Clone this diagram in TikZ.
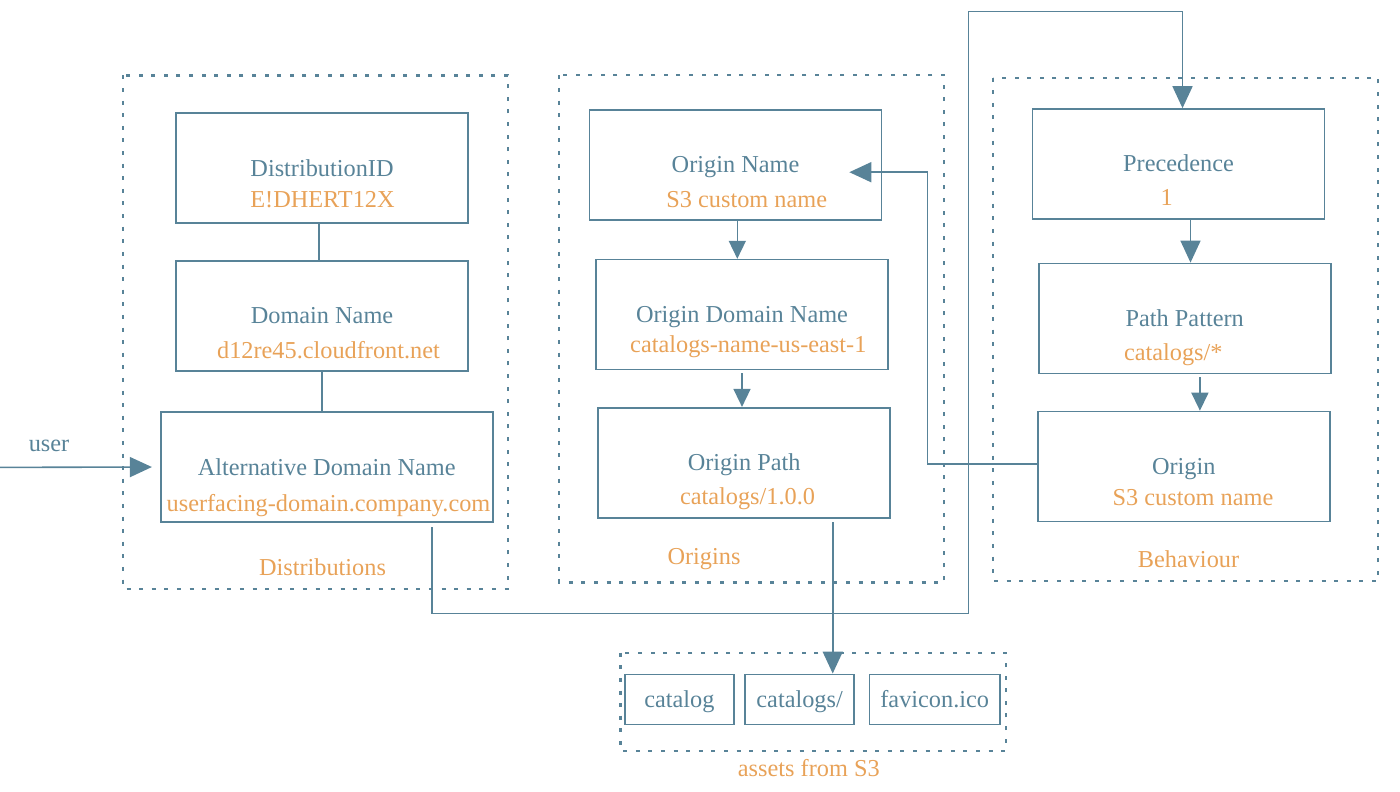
\documentclass[tikz,border=0pt]{standalone}
\usepackage{fontspec}
\setmainfont{Liberation Serif}
\usetikzlibrary{arrows.meta}
\definecolor{cfblue}{RGB}{88,131,152}
\definecolor{cforange}{RGB}{232,162,88}

\begin{document}
\begin{tikzpicture}[x=0.5pt,y=-0.5pt,
    font=\fontsize{12.15pt}{14pt}\selectfont,
    field/.style={draw=cfblue,line width=0.8pt,text=cfblue,minimum width=146pt,
                  minimum height=55pt,inner sep=0pt,text height=8pt,text depth=0pt},
    asset/.style={field,minimum width=54.5pt,minimum height=25pt},
    val/.style={text=cforange,inner sep=0pt,text height=8pt,text depth=0pt},
    group/.style={draw=cfblue,line width=1.1pt,dash pattern=on 2pt off 4.3pt},
    wire/.style={draw=cfblue,line width=0.8pt},
    bigtip/.style={-{Triangle[length=11pt,width=10pt]}},
    smalltip/.style={-{Triangle[length=9pt,width=8.5pt]}}]
\useasboundingbox (0,0) rectangle (1400,791);

% groups
\draw[group] (123,75.5) rectangle (508,588.6);
\draw[group] (559.3,75.4) rectangle (944.3,582.5);
\draw[group] (993.3,77.7) rectangle (1378.3,581);
\draw[group] (620.4,652.7) rectangle (1005.7,750.7);

\node[val] (distlbl) at (322.5,567) {Distributions};
\node[val] (orilbl) at (704,556.8) {Origins};
\node[val] (behlbl) at (1188.5,559.5) {Behaviour};
\node[val] (s3lbl) at (808.8,768.3) {assets from S3};

% distributions
\node[field] (distid) at (322,168.2) {DistributionID};
\node[val] (distidv) at (322.5,199.5) {E!DHERT12X};
\node[field] (domn) at (322,315.7) {Domain Name};
\node[val] (domnv) at (328.5,350.3) {d12re45.cloudfront.net};
\node[field,minimum width=166pt] (altn) at (326.7,467) {Alternative Domain Name};
\node[val] (altnv) at (328.5,503) {userfacing-domain.company.com};

% origins
\node[field] (onm) at (735.5,164.9) {Origin Name};
\node[val] (onmv) at (746.7,199.8) {S3 custom name};
\node[field] (odn) at (742,314.6) {Origin Domain Name};
\node[val] (odnv) at (748.3,344.4) {catalogs-name-us-east-1};
\node[field] (opath) at (744.2,462.7) {Origin Path};
\node[val] (opathv) at (747.5,496.4) {catalogs/1.0.0};

% behaviour
\node[field] (prec) at (1178.5,164) {Precedence};
\node[val] (precv) at (1166.7,197.1) {1};
\node[field] (ppat) at (1184.7,318.4) {Path Pattern};
\node[val] (ppatv) at (1173.3,352.1) {catalogs/*};
\node[field] (orgn) at (1183.7,466.5) {Origin};
\node[val] (orgnv) at (1193,497.5) {S3 custom name};

% assets
\node[asset] (catl) at (679.4,699.3) {catalog};
\node[asset] (cats) at (799.6,699.3) {catalogs/};
\node[asset,minimum width=65.3pt] (favi) at (934.7,699.3) {favicon.ico};

\node[text=cfblue,inner sep=0pt,text height=8pt,text depth=0pt] (user) at (49,443) {user};

\coordinate (userin) at (0,467.4);
\coordinate (altout) at (432,527);
\coordinate (loopbot) at (968.3,613.3);
\coordinate (looptop) at (968.3,11.5);
\coordinate (bendo) at (927.3,463.8);
\coordinate (onmtip) at (849.3,172.2);
\coordinate (opout) at (832.7,522.4);

% connectors
\draw[wire] ([xshift=-1.5pt]distid.south) -- ([xshift=-1.5pt]domn.north);
\draw[wire] (domn.south) -- (altn.north -| domn.south);
\draw[wire,bigtip,shorten >=4pt] (userin) -- (altn.west);
\draw[wire,bigtip] (altout) |- (loopbot) -- (looptop) -| ([xshift=2pt]prec.north);
\draw[wire,smalltip] ([xshift=0.9pt]onm.south) -- ([xshift=0.9pt]onm.south |- odn.north);
\draw[wire,smalltip,shorten <=1.5pt] (odn.south) -- (odn.south |- opath.north);
\draw[wire,bigtip] ([xshift=6pt]prec.south) -- ([xshift=6pt]prec.south |- ppat.north);
\draw[wire,smalltip,shorten <=1.5pt] ([xshift=7.6pt]ppat.south) -- ([xshift=7.6pt]ppat.south |- orgn.north);
\draw[wire,bigtip] (orgn.west |- bendo) -- (bendo) |- (onmtip);
\draw[wire,bigtip] (opout) -- (opout |- cats.north);
\end{tikzpicture}
\end{document}
